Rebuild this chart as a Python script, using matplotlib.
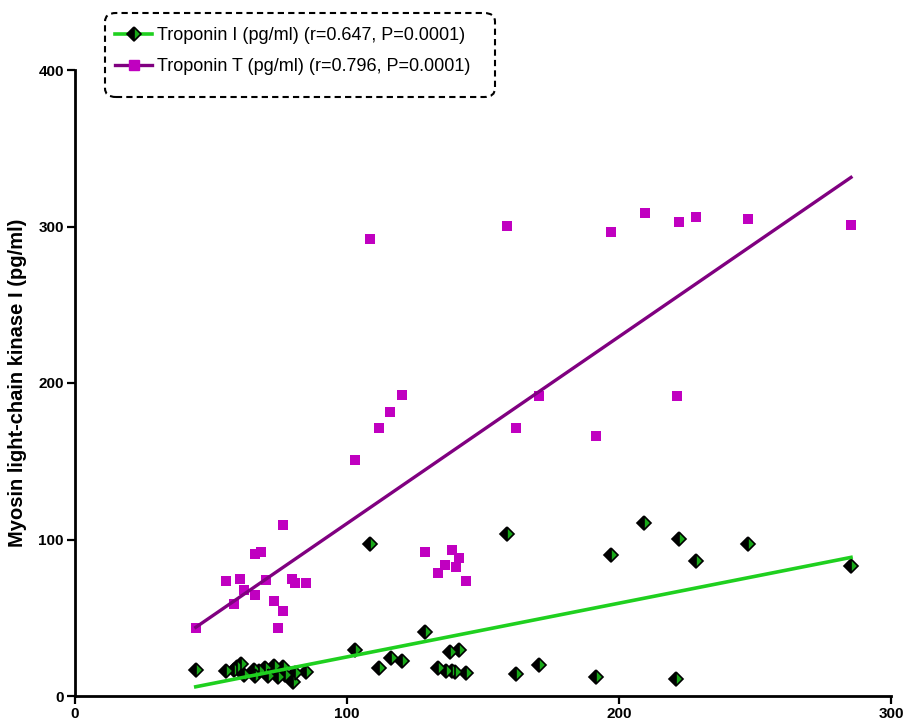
'''
Myosin light-chain kinase I vs troponin I / T scatter with regression lines
'''
import matplotlib
matplotlib.use('Agg')
import matplotlib.pyplot as plt
from matplotlib.patches import FancyBboxPatch
import numpy as np

# Troponin T (pg/ml) vs MLCK I (pg/ml)
tnt_x = [44.4, 55.4, 58.6, 60.7, 62.2, 66.1, 66.0, 68.3, 70.1, 73.2, 74.6, 76.3, 76.6, 79.7, 80.8, 84.9,
         103.1, 108.6, 111.6, 115.9, 120.3, 128.5, 133.3, 136.1, 138.5, 139.9, 141.2, 143.6,
         158.9, 162.1, 170.7, 191.5, 197.0, 209.4, 221.2, 222.1, 228.4, 247.4, 285.3]
tnt_y = [43.5, 73.3, 59.0, 74.8, 67.7, 90.5, 64.7, 91.8, 73.9, 60.5, 43.6, 54.1, 109.5, 74.8, 72.4, 72.0,
         150.6, 291.8, 171.0, 181.7, 192.1, 92.2, 78.4, 83.5, 93.3, 82.6, 88.0, 73.5,
         300.5, 171.0, 191.9, 166.1, 296.6, 308.9, 191.5, 302.8, 306.0, 305.1, 301.2]

# Troponin I (pg/ml) vs MLCK I (pg/ml)
tni_x = [44.4, 55.4, 58.6, 59.4, 60.9, 62.2, 65.7, 66.3, 67.8, 69.9, 71.0, 73.2, 74.7, 76.4, 77.1, 80.1, 81.0, 84.9,
         103.1, 108.5, 111.7, 116.0, 120.4, 128.5, 133.3, 136.3, 138.0, 138.6, 139.6, 141.2, 143.8,
         159.0, 162.1, 170.7, 191.5, 196.9, 209.2, 221.0, 222.1, 228.4, 247.3, 285.3]
tni_y = [16.4, 15.8, 16.8, 18.7, 20.6, 13.4, 16.8, 13.0, 15.8, 17.9, 12.8, 19.4, 11.9, 18.5, 13.6, 9.2, 14.5, 15.5,
         29.4, 96.9, 18.1, 24.3, 22.6, 41.1, 17.6, 16.2, 27.9, 16.0, 15.5, 29.4, 14.9,
         103.7, 14.3, 19.8, 12.1, 89.9, 110.5, 10.9, 100.3, 86.5, 96.9, 83.1]

# regression (slope, intercept) as drawn in the figure
fit_tnt = (1.1934, -9.09)
fit_tni = (0.3432, -9.34)

labels = ['Troponin I (pg/ml) (r=0.647, P=0.0001)',
          'Troponin T (pg/ml) (r=0.796, P=0.0001)']
x_ticks = [0, 100, 200, 300]
y_ticks = [0, 100, 200, 300, 400]

plt.rcParams['font.family'] = ['Liberation Sans', 'DejaVu Sans']

fig = plt.figure(figsize=(9.06, 7.22), dpi=100)
ax = fig.add_axes([75 / 906, 26 / 722, 816 / 906, 626 / 722])

green = '#1fd01f'
dkgreen = '#18a818'
purple = '#800080'
magenta = '#c000c0'

ax.plot(tnt_x, tnt_y, 's', ms=7.2, color=magenta, mec=magenta, mew=0, zorder=3)
ax.plot(tni_x, tni_y, 'D', ms=7.0, fillstyle='left', mfc='black', mfcalt=dkgreen,
        mec='black', mew=1.2, zorder=3)

xx = np.array([min(tnt_x), max(tnt_x)])
ax.plot(xx, fit_tnt[0] * xx + fit_tnt[1], '-', color=purple, lw=2.4, zorder=4)
xx = np.array([min(tni_x), max(tni_x)])
ax.plot(xx, fit_tni[0] * xx + fit_tni[1], '-', color=green, lw=2.6, zorder=4)

ax.set_xlim(0, 300)
ax.set_ylim(0, 400)
ax.set_xticks(x_ticks)
ax.set_yticks(y_ticks)
for s in ['top', 'right']:
    ax.spines[s].set_visible(False)
for s in ['left', 'bottom']:
    ax.spines[s].set_linewidth(2)
ax.tick_params(direction='out', length=6, width=1.6, labelsize=11, pad=2)
for t in ax.get_xticklabels() + ax.get_yticklabels():
    t.set_fontweight('bold')
ax.set_ylabel('Myosin light-chain kinase I (pg/ml)', fontsize=14.5, fontweight='bold', labelpad=8)

# legend handles: line with marker in the middle
h_i, = ax.plot([], [], '-', color=green, lw=2.6, marker='D', ms=7.0, fillstyle='left',
               mfc='black', mfcalt=dkgreen, mec='black', mew=1.2)
h_t, = ax.plot([], [], '-', color=purple, lw=2.4, marker='s', ms=7.2, mfc=magenta, mec=magenta)
leg = fig.legend([h_i, h_t], labels, loc='upper left', bbox_to_anchor=(101 / 906, 1 - 13 / 722),
                 frameon=False, fontsize=13, handlelength=2.0, handletextpad=0.3,
                 labelspacing=0.75, borderpad=0.3, numpoints=1)

box = FancyBboxPatch((105 / 906, 1 - 97 / 722), 390 / 906, 84 / 722,
                     boxstyle='round,pad=0,rounding_size=0.012', transform=fig.transFigure,
                     fill=False, ec='black', lw=1.5, ls=(0, (3, 2)))
fig.patches.append(box)

fig.savefig('out.png', dpi=100)
